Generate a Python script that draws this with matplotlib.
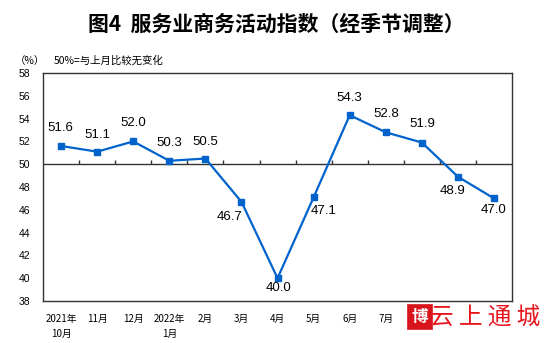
import numpy as np
import matplotlib
matplotlib.use('Agg')
import matplotlib.pyplot as plt
import matplotlib.patches as patches

plt.rcParams['font.family'] = ['Noto Sans CJK SC', 'DejaVu Sans']

# Services business activity index, seasonally adjusted
months = ['2021年\n10月', '11月', '12月', '2022年\n1月', '2月', '3月', '4月',
          '5月', '6月', '7月', '8月', '9月', '10月']
index_values = [51.6, 51.1, 52.0, 50.3, 50.5, 46.7, 40.0, 47.1, 54.3, 52.8, 51.9, 48.9, 47.0]

# label offsets in pixels (dx, dy)
label_offsets = [(-1, 18), (0, 17), (0, 18), (0, 18), (0, 17), (-12, -15), (1, -10),
                 (10, -14), (0, 17), (0, 18), (0, 19), (-5, -14), (0, -12)]

blue = '#0063cc'

fig = plt.figure(figsize=(5.53, 3.43), dpi=100)
ax = fig.add_axes([0.0778, 0.1224, 0.8482, 0.6647])

x = np.arange(len(index_values))
ax.plot(x, index_values, color=blue, lw=1.6, marker='s', markersize=5, zorder=3)

for xi, v, (dx, dy) in zip(x, index_values, label_offsets):
    ax.annotate(f'{v:.1f}', (xi, v), textcoords='offset pixels', xytext=(dx, dy),
                ha='center', va='center', fontsize=9.5, family='Liberation Sans', color='black')

ax.set_xlim(-0.5, len(index_values) - 0.5)
ax.set_ylim(38, 58)
ax.set_yticks(np.arange(38, 59, 2))
ax.tick_params(axis='y', length=0, pad=9, labelsize=7.5)
for lbl in ax.get_yticklabels():
    lbl.set_family('Liberation Sans')

ax.set_xticks(x)
ax.set_xticklabels(months, fontsize=7, linespacing=1.7)
ax.tick_params(axis='x', length=0, pad=9)
# the last months sit under the logo stamp
for lbl in ax.get_xticklabels()[10:]:
    lbl.set_visible(False)

for s in ax.spines.values():
    s.set_color('#333333')
    s.set_linewidth(1)

# 50 baseline with category separators
ax.axhline(50, color='#333333', lw=1, zorder=2)
ax.vlines(np.arange(0.5, len(index_values) - 0.5), 50, 50.35, color='#333333', lw=1)

fig.text(0.5, 0.93, '图4  服务业商务活动指数（经季节调整）', ha='center', va='center',
         fontsize=15, fontweight='bold')
fig.text(0.026, 0.822, '（%）', ha='left', va='center', fontsize=7.5)
fig.text(0.098, 0.822, '50%=与上月比较无变化', ha='left', va='center', fontsize=7.5)

# logo stamp in the lower right corner
seal = patches.Rectangle((0.738, 0.04), 0.043, 0.07, transform=fig.transFigure,
                         facecolor='#d8141c', edgecolor='#d8141c', lw=1.2, zorder=6)
fig.add_artist(seal)
fig.text(0.7595, 0.075, '博', ha='center', va='center', fontsize=12, color='white',
         fontweight='bold', zorder=7)
fig.text(0.877, 0.072, '云 上 通 城', ha='center', va='center', fontsize=17,
         color='#e8141c', zorder=7)

fig.savefig('out.png', dpi=100)
